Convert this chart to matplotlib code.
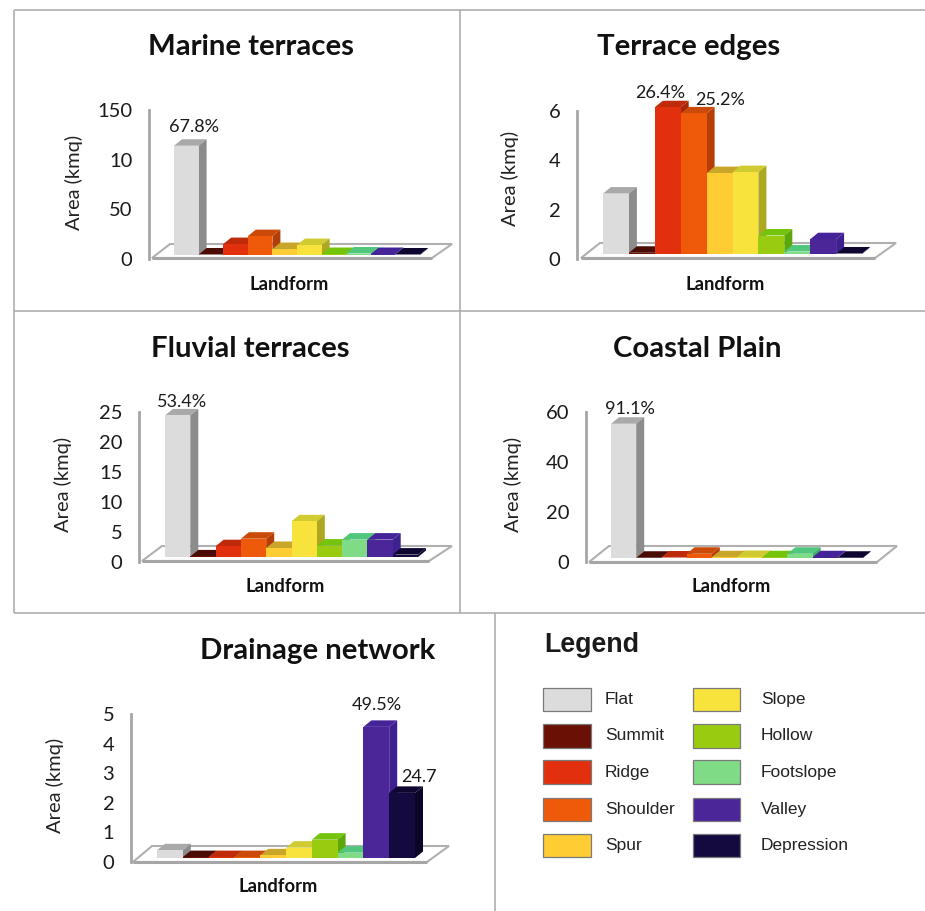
import matplotlib
matplotlib.use("Agg")
import matplotlib.pyplot as plt
from matplotlib.patches import Polygon, Rectangle

W, H = 925, 911
CHART_FONT = "Lato"
LEGEND_FONT = "Liberation Sans"

landforms = ["Flat", "Summit", "Ridge", "Shoulder", "Spur", "Slope", "Hollow", "Footslope", "Valley", "Depression"]
front_colors = ["#DCDCDC", "#6B1005", "#E2300E", "#EE5A0A", "#FFCC33", "#F8E23C", "#99CC11", "#7FDB85", "#4B2699", "#140A40"]
top_colors = ["#A9A9A9", "#4A0C04", "#BF2A0A", "#CC4A08", "#C9A52A", "#CFCB30", "#74C40E", "#50C77C", "#45249A", "#0E0630"]
side_colors = ["#8C8C8C", "#3C0A03", "#A82608", "#B53E06", "#A89020", "#ADA820", "#5CA808", "#40A868", "#3E2090", "#0C0528"]

marine_values = [110, 0.5, 11, 19, 6, 10, 1, 1.5, 1, 0.5]
edges_values = [2.45, 0.05, 5.95, 5.7, 3.28, 3.32, 0.75, 0.1, 0.6, 0.02]
fluvial_values = [23.6, 0.1, 1.8, 3.05, 1.5, 5.95, 1.9, 2.9, 2.9, 0.4]
coastal_values = [53.7, 0.1, 0.2, 1.7, 0.3, 0.4, 0.3, 1.7, 0.3, 0.1]
drainage_values = [0.26, 0.03, 0.03, 0.03, 0.09, 0.35, 0.62, 0.18, 4.43, 2.2]

marine_ticks = [0, 50, 100, 150]
marine_ticklabels = ["0", "50", "10", "150"]
edges_ticks = [0, 2, 4, 6]
fluvial_ticks = [0, 5, 10, 15, 20, 25]
coastal_ticks = [0, 20, 40, 60]
drainage_ticks = [0, 1, 2, 3, 4, 5]

panels = [
    dict(title="Marine terraces", values=marine_values, ticks=marine_ticks, ticklabels=marine_ticklabels,
         notes={0: "67.8%"}, note_off={0: (8, 19)},
         wall=149, top=110, bottom=259, x0=174, w=24.6, base=255, fl=152, fr=432, brx=452, bly=170, by=244, fy=258,
         tc=(251, 47), yl=(74, 182), xl=(289, 284)),
    dict(title="Terrace edges", values=edges_values, ticks=edges_ticks, ticklabels=None,
         notes={2: "26.4%", 3: "25.2%"}, note_off={2: (-8, 14), 3: (26, 13)},
         wall=577, top=111, bottom=259, x0=603, w=25.9, base=254, fl=581, fr=875, brx=896, bly=600, by=243, fy=258,
         tc=(689, 47), yl=(510, 178), xl=(725, 284)),
    dict(title="Fluvial terraces", values=fluvial_values, ticks=fluvial_ticks, ticklabels=None,
         notes={0: "53.4%"}, note_off={0: (4, 13)},
         wall=139, top=412, bottom=562, x0=165, w=25.3, base=557, fl=142, fr=429, brx=452, bly=162, by=546, fy=561,
         tc=(250, 349), yl=(63, 484), xl=(285, 587)),
    dict(title="Coastal Plain", values=coastal_values, ticks=coastal_ticks, ticklabels=None,
         notes={0: "91.1%"}, note_off={0: (6, 15)},
         wall=586, top=412, bottom=562, x0=611, w=25.2, base=558, fl=589, fr=877, brx=897, bly=609, by=546, fy=562,
         tc=(697, 349), yl=(513, 484), xl=(731, 587)),
    dict(title="Drainage network", values=drainage_values, ticks=drainage_ticks, ticklabels=None,
         notes={8: "49.5%", 9: "24.7"}, note_off={8: (1, 22), 9: (17, 16)},
         wall=131, top=714, bottom=862, x0=157, w=25.8, base=858, fl=133, fr=427, brx=449, bly=152, by=846, fy=862,
         tc=(318, 651), yl=(55, 785), xl=(278, 887)),
]

DEPTH_X, DEPTH_Y = 8, 6.5
GRID = "#A6A6A6"

fig = plt.figure(figsize=(W / 100, H / 100), dpi=100, facecolor="white")

# page layer in pixel coordinates: panel rules, chart floors, legend
page = fig.add_axes([0, 0, 1, 1], zorder=0)
page.set_xlim(0, W)
page.set_ylim(H, 0)
page.axis("off")

for xs, ys in [((14, 925), (10, 10)), ((14, 925), (311, 311)), ((14, 925), (613, 613)),
               ((14, 14), (10, 613)), ((460, 460), (10, 613)), ((495, 495), (613, 911))]:
    page.plot(xs, ys, color="#A8A8A8", lw=1.1, solid_capstyle="butt")

for p in panels:
    page.add_patch(Polygon([(p["fl"], p["fy"]), (p["fr"], p["fy"]), (p["brx"], p["by"]), (p["bly"], p["by"])],
                           closed=True, facecolor="white", edgecolor="#B0B0B0", lw=1.5))
    page.plot([p["fl"], p["fr"]], [p["fy"], p["fy"]], color=GRID, lw=2.2, solid_capstyle="butt")

# chart panels
for p in panels:
    scale = (p["bottom"] - p["top"]) / p["ticks"][-1]
    left, right = p["wall"], p["brx"] + 2
    ax = fig.add_axes([left / W, 1 - p["bottom"] / H, (right - left) / W, (p["bottom"] - p["top"]) / H], zorder=2)
    ax.patch.set_alpha(0)
    ax.set_xlim((left - p["x0"]) / p["w"] - 0.5, (right - p["x0"]) / p["w"] - 0.5)
    ax.set_ylim(0, p["ticks"][-1])

    for s in ("top", "right", "bottom"):
        ax.spines[s].set_visible(False)
    ax.spines["left"].set_color(GRID)
    ax.spines["left"].set_linewidth(2.0)
    ax.set_xticks([])
    ax.set_yticks(p["ticks"])
    ax.set_yticklabels(p["ticklabels"] if p["ticklabels"] else [str(t) for t in p["ticks"]])
    ax.tick_params(axis="y", length=0, pad=12, labelsize=14.5, labelcolor="#1A1A1A")
    for lab in ax.get_yticklabels():
        lab.set_fontfamily(CHART_FONT)

    def fx(px):
        return (px - left) / (right - left)

    def fy(py):
        return (p["bottom"] - py) / (p["bottom"] - p["top"])

    ax.set_title(p["title"], fontfamily=CHART_FONT, fontweight="bold", fontsize=21.2, color="#111111",
                 x=fx(p["tc"][0]), y=fy(p["tc"][1]), va="center", ha="center", pad=0)
    ax.set_ylabel("Area (kmq)", fontfamily=CHART_FONT, fontsize=14.5, color="#222222", va="center")
    ax.yaxis.set_label_coords(fx(p["yl"][0]), fy(p["yl"][1]))
    ax.set_xlabel("Landform", fontfamily=CHART_FONT, fontweight="bold", fontsize=13.2, color="#111111", va="center")
    ax.xaxis.set_label_coords(fx(p["xl"][0]), fy(p["xl"][1]))

    base = (p["bottom"] - p["base"]) / scale
    ddx, ddy = DEPTH_X / p["w"], DEPTH_Y / scale
    bars = ax.bar(range(10), p["values"], width=1.0, bottom=base, color=front_colors, linewidth=0, clip_on=False)
    for i, (bar, v) in enumerate(zip(bars, p["values"])):
        z = 3 + i
        bar.set_zorder(z + 0.2)
        l, r, b, t = i - 0.5, i + 0.5, base, base + v
        ax.add_patch(Polygon([(l, t), (r, t), (r + ddx, t + ddy), (l + ddx, t + ddy)], closed=True,
                             facecolor=top_colors[i], edgecolor="none", zorder=z, clip_on=False))
        ax.add_patch(Polygon([(r, b), (r + ddx, b + ddy), (r + ddx, t + ddy), (r, t)], closed=True,
                             facecolor=side_colors[i], edgecolor="none", zorder=z + 0.1, clip_on=False))
        if i in p["notes"]:
            ox, oy = p["note_off"][i]
            ax.annotate(p["notes"][i], (i, t), xytext=(ox * 0.72, oy * 0.72), textcoords="offset points",
                        ha="center", va="center", fontfamily=CHART_FONT, fontsize=13, color="#1A1A1A",
                        annotation_clip=False, zorder=20)

# legend
page.text(544, 645, "Legend", fontfamily=LEGEND_FONT, fontweight="bold", fontsize=19.3, color="#1A1A1A", va="center")
rows = [(688, 711), (724, 748), (760, 784), (798, 821), (834, 857)]
for i, name in enumerate(landforms):
    col, row = i // 5, i % 5
    x1, x2, tx = (543, 591, 605) if col == 0 else (693, 740, 761)
    y1, y2 = rows[row]
    page.add_patch(Rectangle((x1, y1), x2 - x1, y2 - y1, facecolor=front_colors[i],
                             edgecolor="#7A7A7A", lw=0.9))
    page.text(tx, (y1 + y2) / 2, name, fontfamily=LEGEND_FONT, fontsize=12.5, color="#222222", va="center")

fig.savefig("out.png", dpi=100)
